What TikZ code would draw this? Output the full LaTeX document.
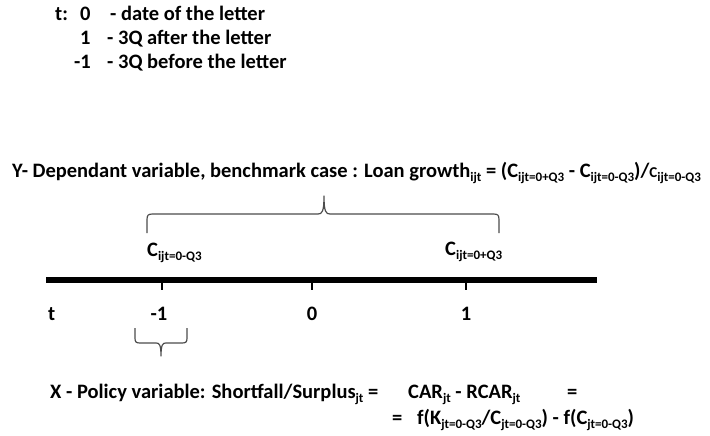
\documentclass[tikz,border=0pt]{standalone}
\usepackage{fontspec}
\setmainfont{Carlito}
\newcommand\sbs[1]{\raisebox{-0.22em}{\fontsize{13}{14}\selectfont #1}}
\begin{document}
\begin{tikzpicture}[x=1pt,y=-1pt,
  txt/.style={anchor=base west, inner sep=0pt, font=\fontsize{20.5}{24}\selectfont\bfseries},
  ctxt/.style={anchor=base, inner sep=0pt, font=\fontsize{20.5}{24}\selectfont\bfseries},
  brace/.style={draw=black!70, line width=1.2pt, line join=round},
  axis/.style={line width=6.5pt},
  tick/.style={line width=2.5pt}]
\useasboundingbox (0,0) rectangle (710,436);
% legend
\node[txt] (l0t) at (55,21) {t:};
\node[txt] (l0n) at (80,21) {0};
\node[txt] (l0d) at (110,21) {- date of the letter};
\node[txt] (l1n) at (80,45) {1};
\node[txt] (l1d) at (107,45) {- 3Q after the letter};
\node[txt] (l2n) at (74,69) {-1};
\node[txt] (l2d) at (107,69) {- 3Q before the letter};
% Y line
\node[txt] (ydef) at (12,177) {Y- Dependant variable, benchmark case : Loan growth\sbs{ijt} = (C\sbs{ijt=0+Q3} - C\sbs{ijt=0-Q3})/{\fontsize{15}{15}\selectfont C}\sbs{ijt=0-Q3}};
% top brace
\draw[brace] (147,233) -- (147,220) .. controls (147,215) and (148,214) .. (153,214) -- (318,214) .. controls (322,214) and (324,212) .. (324,196) .. controls (324,212) and (326,214) .. (330,214) -- (493,214) .. controls (498,214) and (499,215) .. (499,220) -- (499,233);
\node[txt] (cm) at (147,256) {C\sbs{ijt=0-Q3}};
\node[txt] (cp) at (445,255) {C\sbs{ijt=0+Q3}};
% axis
\coordinate (a0) at (46,280);
\coordinate (a1) at (597,280);
\draw[axis] (a0) -- (a1);
\coordinate (tm) at (162,283);
\coordinate (tz) at (312,283);
\coordinate (tp) at (466,283);
\draw[tick] (tm) -- ++(0,7);
\draw[tick] (tz) -- ++(0,7);
\draw[tick] (tp) -- ++(0,7);
\node[txt] (lt) at (48,320) {t};
\node[ctxt] (lm) at (159,320) {-1};
\node[ctxt] (lz) at (312,320) {0};
\node[ctxt] (lp) at (466,320) {1};
% small brace
\draw[brace] (135,328) -- (135,338) .. controls (135,342) and (136,343) .. (140,343) -- (156,343) .. controls (159,343) and (161,344) .. (161,356) .. controls (161,344) and (163,343) .. (166,343) -- (182,343) .. controls (186,343) and (187,342) .. (187,338) -- (187,328);
% X lines
\node[txt] (xdef) at (50,398) {X - Policy variable: Shortfall/Surplus\sbs{jt} =};
\node[txt] (car) at (408,398) {CAR\sbs{jt} - RCAR\sbs{jt}};
\node[txt] (eq1) at (567,398) {=};
\node[txt] (eq2) at (392,424) {=};
\node[txt] (fx) at (417,424) {f(K\sbs{jt=0-Q3}/C\sbs{jt=0-Q3}) - f(C\sbs{jt=0-Q3})};
\end{tikzpicture}
\end{document}
